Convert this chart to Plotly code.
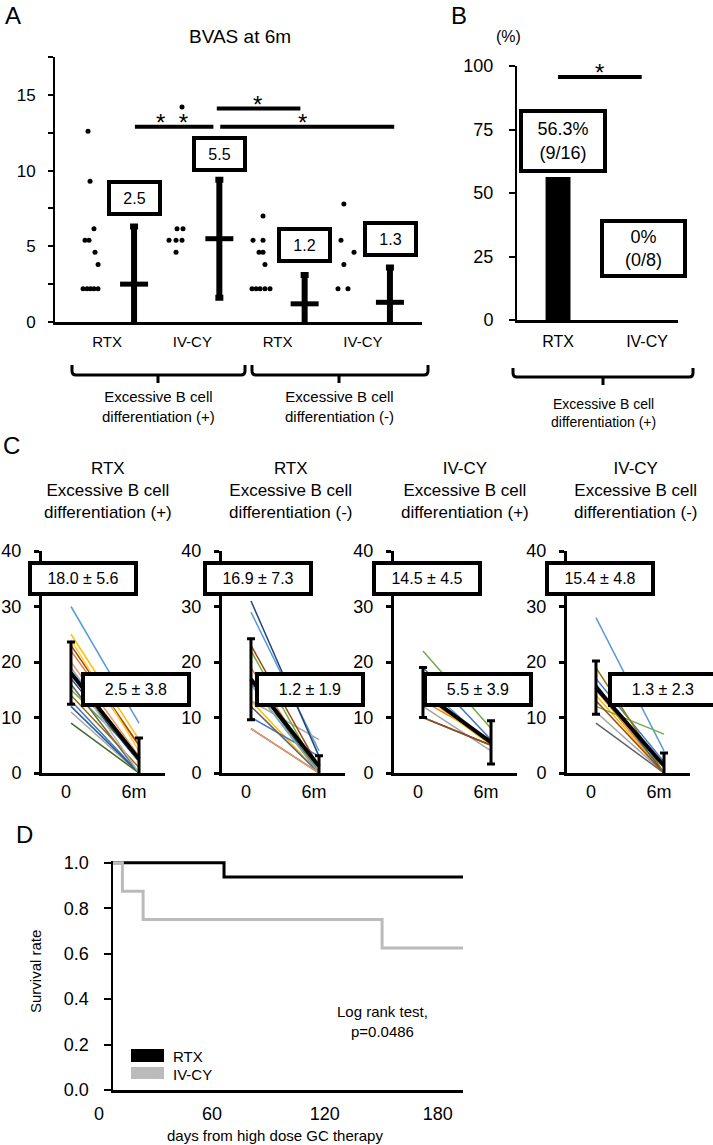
import plotly.graph_objects as go

W, H = 713, 1145
FONT = "Arial, 'Liberation Sans', sans-serif"


def px(x):
    return x / W


def py(y):
    return 1 - y / H


# ---------------- DATA ----------------
# Panel A: BVAS at 6 months (order: RTX+, IV-CY+, RTX-, IV-CY-)
a_groups = ["RTX", "IV-CY", "RTX", "IV-CY"]
a_mean = [2.5, 5.5, 1.2, 1.3]
a_sd = [3.8, 3.9, 1.9, 2.3]
a_box_text = ["2.5", "5.5", "1.2", "1.3"]
a_dots_g1 = [12.6, 9.3, 6.15, 5.4, 5.4, 4.6, 3.8, 2.2, 2.2, 2.2, 2.2, 2.2]
a_dots_g2 = [14.2, 6.15, 6.15, 5.4, 5.4, 5.4, 4.6]
a_dots_g3 = [7.0, 5.4, 5.4, 4.6, 4.6, 3.8, 2.2, 2.2, 2.2, 2.2, 2.2]
a_dots_g4 = [7.8, 5.4, 4.6, 3.8, 2.2, 2.2]
# horizontal jitter of the dots (layout only)
a_jit_g1 = [0, 0.024, 0.07, -0.035, 0.012, 0.082, 0.118, -0.058, -0.011, 0.03, 0.07, 0.117]
a_jit_g2 = [0.102, 0.044, 0.114, -0.05, 0.032, 0.102, 0.032]
a_jit_g3 = [0.052, -0.065, 0.052, 0.005, 0.052, 0.075, -0.077, -0.03, 0.017, 0.075, 0.134]
a_jit_g4 = [0.0, -0.034, 0.119, 0.0, -0.069, 0.048]
a_sig_text = ["*\u00a0\u00a0*", "*", "*"]
a_sig_y = [12.9, 14.1, 12.9]
a_sig_x0 = [0.28, 1.24, 1.28]
a_sig_x1 = [1.20, 2.22, 3.32]

# Panel B: remission rate (%)
b_groups = ["RTX", "IV-CY"]
b_rate = [56.3, 0.0]
b_text = ["56.3%<br>(9/16)", "0%<br>(0/8)"]
b_sig_y = 95.7

# Panel C: BVAS 0 -> 6m per patient
c_titles = [
    "RTX<br>Excessive B cell<br>differentiation (+)",
    "RTX<br>Excessive B cell<br>differentiation (-)",
    "IV-CY<br>Excessive B cell<br>differentiation (+)",
    "IV-CY<br>Excessive B cell<br>differentiation (-)",
]
c_time = ["0", "6m"]
c_mean0 = [18.0, 16.9, 14.5, 15.4]
c_sd0 = [5.6, 7.3, 4.5, 4.8]
c_mean6 = [2.5, 1.2, 5.5, 1.3]
c_sd6 = [3.8, 1.9, 3.9, 2.3]
c_start_1 = [30, 22, 11, 25, 13, 15, 12, 23, 16, 14, 17, 9, 19, 20, 18, 24]
c_end_1 = [9, 5, 0, 6, 0, 3, 0, 5, 0, 1, 2, 0, 2, 3, 0, 4]
c_start_2 = [29, 19, 13, 13, 10, 22, 8, 23, 12, 16, 31, 17, 16, 8]
c_end_2 = [4, 0, 6, 0, 3, 0, 0, 1, 0, 0, 3, 0, 0, 0]
c_start_3 = [16, 13, 12, 14, 19, 22, 10, 10]
c_end_3 = [5, 6, 4, 5, 6, 8, 5, 5]
c_start_4 = [28, 15, 11, 14, 17, 12, 16, 13, 9, 19]
c_end_4 = [4, 0, 0, 0, 2, 7, 0, 0, 0, 0]
c_palette = ["#5B9BD5", "#ED7D31", "#A5A5A5", "#FFC000", "#4472C4", "#70AD47",
             "#255E91", "#9E480E", "#636363", "#997300", "#264478", "#43682B",
             "#7CAFDD", "#F1975A", "#B7B7B7", "#FFCD33"]

# Panel D: survival
d_rtx_days = [0, 59, 186]
d_rtx_surv = [1.0, 0.9375, 0.9375]
d_cy_days = [0, 5, 16, 143, 186]
d_cy_surv = [1.0, 0.875, 0.75, 0.625, 0.625]
d_ticks = [0, 60, 120, 180]

# ---------------- FIGURE ----------------
fig = go.Figure()

# ---- Panel A ----
a_dots = [a_dots_g1, a_dots_g2, a_dots_g3, a_dots_g4]
a_jits = [a_jit_g1, a_jit_g2, a_jit_g3, a_jit_g4]
for g in range(4):
    fig.add_trace(go.Scatter(
        x=[g - 0.27 + j for j in a_jits[g]], y=a_dots[g], mode="markers",
        marker=dict(size=5, color="black"), xaxis="x", yaxis="y", showlegend=False))
    fig.add_trace(go.Scatter(
        x=[g + 0.27], y=[a_mean[g]], mode="markers",
        marker=dict(symbol="line-ew", size=20, line=dict(width=5, color="black")),
        error_y=dict(type="data", array=[a_sd[g]], arrayminus=[a_sd[g]],
                     thickness=6, width=4, color="black"),
        xaxis="x", yaxis="y", showlegend=False))
for i in range(3):
    fig.add_trace(go.Scatter(
        x=[a_sig_x0[i], a_sig_x1[i]], y=[a_sig_y[i]] * 2, mode="lines",
        line=dict(color="black", width=4), xaxis="x", yaxis="y", showlegend=False))

# ---- Panel B ----
fig.add_trace(go.Bar(x=[0, 1], y=b_rate, width=0.28, marker=dict(color="black", line=dict(width=0)),
                     xaxis="x2", yaxis="y2", showlegend=False))
fig.add_trace(go.Scatter(x=[0.0, 0.94], y=[b_sig_y] * 2, mode="lines",
                         line=dict(color="black", width=4), xaxis="x2", yaxis="y2", showlegend=False))

# ---- Panel C ----
c_starts = [c_start_1, c_start_2, c_start_3, c_start_4]
c_ends = [c_end_1, c_end_2, c_end_3, c_end_4]
for k in range(4):
    xa, ya = f"x{k + 3}", f"y{k + 3}"
    for i, (s, e) in enumerate(zip(c_starts[k], c_ends[k])):
        fig.add_trace(go.Scatter(x=[0, 1], y=[s, e], mode="lines",
                                 line=dict(color=c_palette[i % len(c_palette)], width=1.5),
                                 xaxis=xa, yaxis=ya, showlegend=False))
    fig.add_trace(go.Scatter(
        x=[0, 1], y=[c_mean0[k], c_mean6[k]], mode="lines",
        line=dict(color="black", width=4),
        error_y=dict(type="data", array=[c_sd0[k], c_sd6[k]], thickness=3, width=4, color="black"),
        xaxis=xa, yaxis=ya, showlegend=False))

# ---- Panel D ----
fig.add_trace(go.Scatter(x=d_rtx_days, y=d_rtx_surv, mode="lines", line=dict(color="black", width=3, shape="hv"),
                         xaxis="x7", yaxis="y7", showlegend=False))
fig.add_trace(go.Scatter(x=d_cy_days, y=d_cy_surv, mode="lines", line=dict(color="#BBBBBB", width=3, shape="hv"),
                         xaxis="x7", yaxis="y7", showlegend=False))

# ---------------- AXES ----------------
base = dict(showgrid=False, zeroline=False, showline=True, linecolor="black", color="black",
            automargin=False)

layout = dict(
    width=W, height=H, margin=dict(l=0, r=0, t=0, b=0, autoexpand=False),
    paper_bgcolor="white", plot_bgcolor="rgba(0,0,0,0)",
    font=dict(family=FONT, color="black"), showlegend=False,
)

# A
layout["xaxis"] = dict(base, domain=[px(55), px(422)], range=[-0.657, 3.646], anchor="y",
                       tickvals=[0, 1, 2, 3], ticktext=a_groups, ticks="", linewidth=3,
                       tickfont=dict(family=FONT, size=15, color="black"), ticklabelshift=-4,
                       ticklabelstandoff=4)
layout["yaxis"] = dict(base, domain=[py(322), py(57)], range=[0, 17.5], anchor="x",
                       tickvals=[0, 2.5, 5, 7.5, 10, 12.5, 15, 17.5],
                       ticktext=["0", "", "5", "", "10", "", "15", ""],
                       ticks="outside", ticklen=5, tickwidth=2, linewidth=2,
                       tickfont=dict(family=FONT, size=17, color="black"), ticklabelstandoff=9)
# B
layout["xaxis2"] = dict(base, domain=[px(517), px(678)], range=[-0.461, 1.348], anchor="y2",
                        tickvals=[0, 1], ticktext=b_groups, ticks="", linewidth=2.5,
                        tickfont=dict(family=FONT, size=16, color="black"), ticklabelstandoff=5)
layout["yaxis2"] = dict(base, domain=[py(320), py(66)], range=[0, 100], anchor="x2",
                        tickvals=[0, 25, 50, 75, 100], ticks="outside", ticklen=6, tickwidth=2,
                        linewidth=2, tickfont=dict(family=FONT, size=18, color="black"),
                        ticklabelstandoff=12)
# C
c_dom = [(42, 165), (222, 345), (394, 517), (567, 690)]
for k in range(4):
    n = k + 3
    layout[f"xaxis{n}"] = dict(base, domain=[px(c_dom[k][0]), px(c_dom[k][1])], range=[-0.426, 1.382],
                               anchor=f"y{n}", tickvals=[0, 1], ticktext=c_time, ticks="", linewidth=3,
                               tickfont=dict(family=FONT, size=18, color="black"), ticklabelshift=-5)
    layout[f"yaxis{n}"] = dict(base, domain=[py(773), py(551)], range=[0, 40], anchor=f"x{n}",
                               tickvals=[0, 10, 20, 30, 40], ticks="outside", ticklen=5, tickwidth=3,
                               linewidth=3, tickfont=dict(family=FONT, size=18, color="black"),
                               ticklabelstandoff=9)
# D
layout["xaxis7"] = dict(base, domain=[px(113), px(463)], range=[0, 186], anchor="y7",
                        tickvals=d_ticks, ticks="", linewidth=2.5,
                        tickfont=dict(family=FONT, size=18, color="black"), ticklabelshift=-14,
                        ticklabelstandoff=6)
layout["yaxis7"] = dict(base, domain=[py(1090), py(861)], range=[0, 1.008], anchor="x7",
                        tickvals=[0, 0.2, 0.4, 0.6, 0.8, 1.0], tickformat=".1f",
                        ticks="outside", ticklen=7, tickwidth=2, linewidth=2.5,
                        tickfont=dict(family=FONT, size=18, color="black"), ticklabelstandoff=11)

fig.update_layout(**layout)

# ---------------- ANNOTATIONS ----------------
ann = []


def text(x, y, s, size, xref="paper", yref="paper", **kw):
    d = dict(x=x, y=y, text=s, xref=xref, yref=yref, showarrow=False,
             xanchor="center", yanchor="middle",
             font=dict(family=FONT, size=size, color="black"))
    d.update(kw)
    ann.append(d)


def box(x, y, s, size, w, h, xref, yref):
    ann.append(dict(x=x, y=y, text=s, xref=xref, yref=yref, showarrow=False,
                    xanchor="center", yanchor="middle",
                    font=dict(family=FONT, size=size, color="black"),
                    bgcolor="white", bordercolor="black", borderwidth=4, borderpad=0,
                    width=w - 8, height=h - 8, align="center", valign="middle"))


# panel letters
text(px(13), py(16), "A", 24)
text(px(459), py(16), "B", 24)
text(px(11), py(445), "C", 24)
text(px(24), py(834), "D", 24)

# A
text(px(240), py(37), "BVAS at 6m", 19)
a_box_pos = [(0.27, 8.16), (1.27, 11.1), (2.27, 5.1), (3.28, 5.46)]
for g in range(4):
    box(a_box_pos[g][0], a_box_pos[g][1], a_box_text[g], 16, 55, 36, "x", "y")
a_sig_tx = [0.715, 1.72, 2.24]
for i in range(3):
    text(a_sig_tx[i], a_sig_y[i], a_sig_text[i], 24, xref="x", yref="y", yshift=4)
text(px(158), py(407), "Excessive B cell<br>differentiation (+)", 15)
text(px(339), py(407), "Excessive B cell<br>differentiation (-)", 15)

# B
text(px(508), py(37), "(%)", 16)
box(0.056, 70.5, b_text[0], 18, 88, 64, "x2", "y2")
box(0.955, 28.3, b_text[1], 18, 87, 59, "x2", "y2")
text(0.47, b_sig_y, "*", 24, xref="x2", yref="y2", yshift=4)
text(px(603), py(413), "Excessive B cell<br>differentiation (+)", 14)

# C
c_title_x = [108, 290, 465, 635]
c_top_x = [0.176, 0.10, 0.06, 0.06]
c_bot_x = [0.956, 0.868, 0.81, 0.985]
for k in range(4):
    n = k + 3
    text(px(c_title_x[k]), py(490), c_titles[k], 17)
    box(c_top_x[k], 35.1, f"{c_mean0[k]:.1f} ± {c_sd0[k]:.1f}", 16, 110, 35, f"x{n}", f"y{n}")
    box(c_bot_x[k], 15.1, f"{c_mean6[k]:.1f} ± {c_sd6[k]:.1f}", 16, 110, 35, f"x{n}", f"y{n}")

# D
text(px(35), py(972), "Survival rate", 15, textangle=-90)
text(px(275), py(1135), "days from high dose GC therapy", 15)
text(px(382), py(1021), "Log rank test,<br>p=0.0486", 15)
text(px(171), py(1056), "RTX", 15, xanchor="left")
text(px(171), py(1074), "IV-CY", 15, xanchor="left")

fig.update_layout(annotations=ann)

# ---------------- SHAPES (braces, legend keys) ----------------
shapes = []


def brace(x0, x1, xc, ytop, yline, ytick, lw=3):
    r = 4
    p = (f"M {px(x0)},{py(ytop)} L {px(x0)},{py(yline - r)} Q {px(x0)},{py(yline)} {px(x0 + r)},{py(yline)} "
         f"L {px(x1 - r)},{py(yline)} Q {px(x1)},{py(yline)} {px(x1)},{py(yline - r)} L {px(x1)},{py(ytop)} "
         f"M {px(xc)},{py(yline)} L {px(xc)},{py(ytick)}")
    shapes.append(dict(type="path", path=p, xref="paper", yref="paper",
                       line=dict(color="black", width=lw)))


brace(72, 245, 158, 365, 375, 383)
brace(252, 428, 339, 365, 375, 383)
brace(513, 693, 603, 368, 377, 385)

shapes.append(dict(type="rect", xref="paper", yref="paper", x0=px(131), x1=px(164), y0=py(1062), y1=py(1049),
                   fillcolor="black", line=dict(width=0)))
shapes.append(dict(type="rect", xref="paper", yref="paper", x0=px(131), x1=px(164), y0=py(1079), y1=py(1067),
                   fillcolor="#BBBBBB", line=dict(width=0)))
fig.update_layout(shapes=shapes)

fig.write_html("out.html", config={"displayModeBar": False, "staticPlot": True},
               post_script="document.body.style.margin='0';document.body.style.overflow='hidden';")
